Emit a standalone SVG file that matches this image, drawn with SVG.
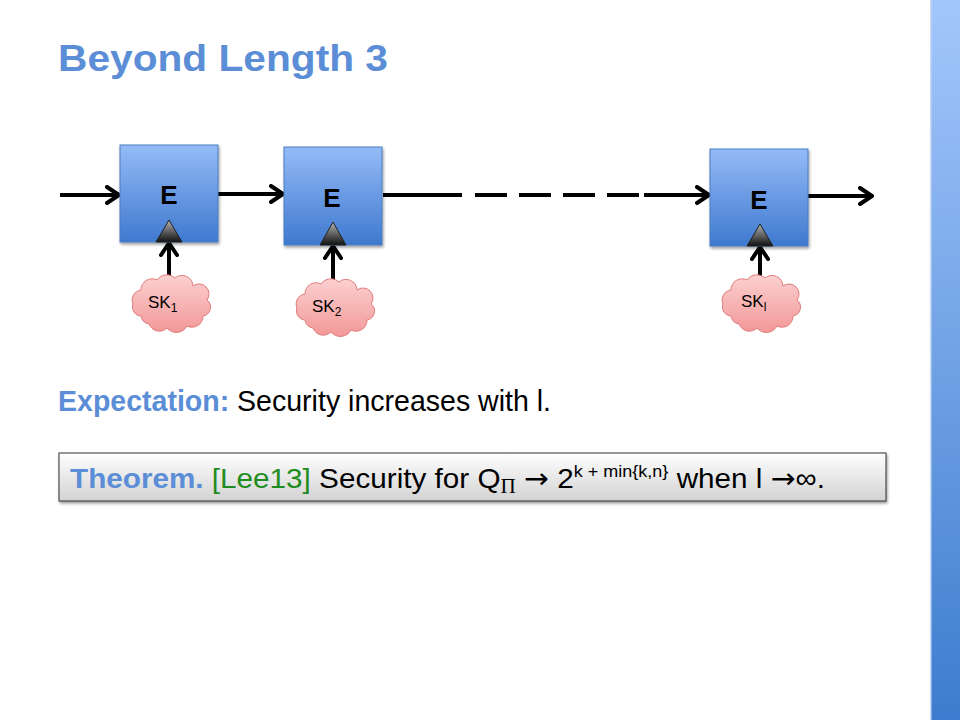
<svg xmlns="http://www.w3.org/2000/svg" width="960" height="720" viewBox="0 0 960 720">
  <style>
    .line { stroke: #000; stroke-width: 4; fill: none; }
    .arr { stroke: #000; stroke-width: 4; fill: none; marker-end: url(#chev); }
    .box { fill: url(#boxGrad); stroke: #4a7cc0; stroke-width: 1; filter: url(#shadow); }
    .tri { fill: url(#triGrad); stroke: #222; stroke-width: 1; }
    .cloud { fill: url(#cloudGrad); stroke: #e07b7b; stroke-width: 1; }
    .e { font-family: "Liberation Sans", Arial, sans-serif; font-weight: bold; font-size: 26px; fill: #000; text-anchor: middle; }
    .sk { font-family: "Liberation Sans", Arial, sans-serif; font-size: 17px; fill: #000; }
    .sub { font-size: 12px; }
    .blue { fill: #5b8ed6; font-weight: bold; }
    .ar { font-family: "DejaVu Sans", sans-serif; }
  </style>
  <defs>
    <linearGradient id="boxGrad" x1="0" y1="0" x2="0" y2="1">
      <stop offset="0" stop-color="#94bbf7"/>
      <stop offset="1" stop-color="#3f79cf"/>
    </linearGradient>
    <linearGradient id="triGrad" x1="0" y1="0" x2="0" y2="1">
      <stop offset="0" stop-color="#b5b5b5"/>
      <stop offset="1" stop-color="#111"/>
    </linearGradient>
    <linearGradient id="cloudGrad" x1="0" y1="0" x2="0" y2="1">
      <stop offset="0" stop-color="#fcd0d0"/>
      <stop offset="1" stop-color="#f39898"/>
    </linearGradient>
    <linearGradient id="thmGrad" x1="0" y1="0" x2="0" y2="1">
      <stop offset="0" stop-color="#ffffff"/>
      <stop offset="1" stop-color="#d2d2d2"/>
    </linearGradient>
    <linearGradient id="barGrad" x1="0" y1="0" x2="0" y2="1">
      <stop offset="0" stop-color="#a3c7fc"/>
      <stop offset="1" stop-color="#3d7cce"/>
    </linearGradient>
    <filter id="shadow" x="-10%" y="-10%" width="130%" height="140%">
      <feGaussianBlur in="SourceAlpha" stdDeviation="1.5"/>
      <feOffset dx="1" dy="2" result="b"/>
      <feComponentTransfer><feFuncA type="linear" slope="0.4"/></feComponentTransfer>
      <feMerge><feMergeNode/><feMergeNode in="SourceGraphic"/></feMerge>
    </filter>
    <marker id="chev" viewBox="0 0 16 20" refX="14" refY="10" markerWidth="16" markerHeight="20" markerUnits="userSpaceOnUse" orient="auto">
      <path d="M2,2 L14,10 L2,18" stroke="#000" stroke-width="4" fill="none" stroke-linecap="round" stroke-linejoin="round"/>
    </marker>
    <path id="cloudShape" d="M-28,14 A9,9 0 0 1 -36,2 A10,10 0 0 1 -28,-12 A11,11 0 0 1 -12,-22 A12,12 0 0 1 6,-24 A11,11 0 0 1 24,-16 A10,10 0 0 1 38,-2 A9,9 0 0 1 34,14 A11,11 0 0 1 18,24 A12,12 0 0 1 -2,26 A11,11 0 0 1 -20,22 A9,9 0 0 1 -28,14 Z"/>
  </defs>

  <rect width="960" height="720" fill="#fff"/>
  <rect x="931" y="0" width="29" height="720" fill="url(#barGrad)"/>
  <rect x="930" y="0" width="1.5" height="720" fill="#c9d9f3"/>

  <text x="58" y="71" font-family="'Liberation Sans', Arial, sans-serif" font-weight="bold" font-size="37" fill="#5b8ed6" textLength="330" lengthAdjust="spacingAndGlyphs">Beyond Length 3</text>

  <g id="connectors">
    <path class="arr" d="M60,195 H119"/>
    <path class="arr" d="M218,194 H283"/>
    <path class="line" d="M383,195 H462"/>
    <path class="line" d="M475,195 H507 M519,195 H551 M563,195 H595 M607,195 H639"/>
    <path class="arr" d="M644,195 H709"/>
    <path class="arr" d="M808,196 H872"/>
    <path class="arr" d="M169,278 V243"/>
    <path class="arr" d="M333,282 V246"/>
    <path class="arr" d="M760,278 V247"/>
  </g>

  <g id="node-E1">
    <rect class="box" x="120" y="145" width="98" height="97"/>
    <text class="e" x="169" y="204">E</text>
    <polygon class="tri" points="169,220 156,242 182,242"/>
  </g>
  <g id="node-E2">
    <rect class="box" x="284" y="147" width="98" height="98"/>
    <text class="e" x="332" y="207">E</text>
    <polygon class="tri" points="333,222 320,245 346,245"/>
  </g>
  <g id="node-E3">
    <rect class="box" x="710" y="149" width="98" height="97"/>
    <text class="e" x="759" y="209">E</text>
    <polygon class="tri" points="760,224 747,246 773,246"/>
  </g>

  <g id="node-SK1">
    <use href="#cloudShape" class="cloud" transform="translate(169,302)"/>
    <text class="sk" x="148" y="308">SK<tspan class="sub" dy="4">1</tspan></text>
  </g>
  <g id="node-SK2">
    <use href="#cloudShape" class="cloud" transform="translate(333,306)"/>
    <text class="sk" x="312" y="312">SK<tspan class="sub" dy="4">2</tspan></text>
  </g>
  <g id="node-SKl">
    <use href="#cloudShape" class="cloud" transform="translate(759,302)"/>
    <text class="sk" x="741" y="307">SK<tspan class="sub" dy="4">l</tspan></text>
  </g>

  <text x="58" y="411" font-family="'Liberation Sans', Arial, sans-serif" font-size="30" fill="#000" textLength="493" lengthAdjust="spacingAndGlyphs"><tspan class="blue">Expectation:</tspan> Security increases with l.</text>

  <g id="theorem">
    <rect x="59" y="453" width="827" height="48" fill="url(#thmGrad)" stroke="#333" stroke-width="1" filter="url(#shadow)"/>
    <text x="70" y="488" font-family="'Liberation Sans', Arial, sans-serif" font-size="28" fill="#000" textLength="755" lengthAdjust="spacingAndGlyphs"><tspan class="blue">Theorem.</tspan> <tspan fill="#1e8c1e">[Lee13]</tspan> Security for Q<tspan font-family="'Liberation Serif', 'DejaVu Serif', serif" font-size="20" dy="5">Π</tspan><tspan dy="-5"> </tspan><tspan class="ar">→</tspan> 2<tspan font-size="17" dy="-11">k + min{k,n}</tspan><tspan dy="11"> when l </tspan><tspan class="ar">→</tspan>∞.</text>
  </g>
</svg>
